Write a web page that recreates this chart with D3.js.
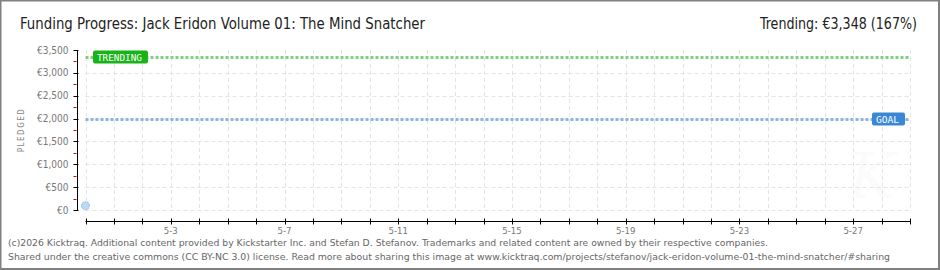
<!DOCTYPE html>
<html>
<head>
<meta charset="utf-8">
<script src="https://cdn.jsdelivr.net/npm/d3@7"></script>
<style>
  body { margin: 0; background: #fff; }
  svg { display: block; }
</style>
</head>
<body>
<div id="chart"></div>
<script>
// chart data
const title = "Funding Progress: Jack Eridon Volume 01: The Mind Snatcher";
const trendingText = "Trending: €3,348 (167%)";
const footerLines = [
    "(c)2026 Kicktraq. Additional content provided by Kickstarter Inc. and Stefan D. Stefanov. Trademarks and related content are owned by their respective companies.",
    "Shared under the creative commons (CC BY-NC 3.0) license. Read more about sharing this image at www.kicktraq.com/projects/stefanov/jack-eridon-volume-01-the-mind-snatcher/#sharing"
];
const startDate = "2026-04-30";
const endDate = "2026-05-29";
const labelDates = ["2026-05-03", "2026-05-07", "2026-05-11", "2026-05-15", "2026-05-19", "2026-05-23", "2026-05-27"];
const pledgeDates = ["2026-04-30"];
const pledgeValues = [95];
const goal = 2000;
const trending = 3348;
const yTicks = [0, 500, 1000, 1500, 2000, 2500, 3000, 3500];
const yMinorTicks = [250, 750, 1250, 1750, 2250, 2750, 3250];

const width = 940, height = 270;
const font = "'Liberation Sans Narrow', 'DejaVu Sans Condensed', sans-serif";

const svg = d3.select("#chart").append("svg")
    .attr("width", width)
    .attr("height", height);

// frame
svg.append("rect")
    .attr("x", 0.5).attr("y", 0.5)
    .attr("width", width - 1.5).attr("height", height - 1.5)
    .attr("fill", "#fff")
    .attr("stroke", "#808080")
    .attr("stroke-width", 2);

const parse = d3.timeParse("%Y-%m-%d");
const x = d3.scaleTime()
    .domain([parse(startDate), parse(endDate)])
    .range([85.5, 910]);
const y = d3.scaleLinear()
    .domain([0, 3500])
    .range([210, 50]);

const days = d3.timeDay.range(parse(startDate), d3.timeDay.offset(parse(endDate), 1));

// watermark
svg.append("text")
    .attr("x", 872).attr("y", 198)
    .attr("text-anchor", "middle")
    .attr("font-family", "DejaVu Serif, serif")
    .attr("font-style", "italic")
    .attr("font-size", 64)
    .attr("fill", "#fbfbfb")
    .text("K");

// grid
const grid = svg.append("g").attr("stroke", "#e4e4e4").attr("stroke-dasharray", "4,3");
grid.selectAll(".vg").data(days).join("line")
    .attr("x1", d => Math.round(x(d)) + 0.5).attr("x2", d => Math.round(x(d)) + 0.5)
    .attr("y1", y(3500)).attr("y2", y(0));
grid.selectAll(".hg").data(yTicks.slice(0, -1)).join("line")
    .attr("x1", x(parse(startDate))).attr("x2", x(parse(endDate)))
    .attr("y1", d => Math.round(y(d)) + 0.5).attr("y2", d => Math.round(y(d)) + 0.5);

// y axis
const gy = svg.append("g").attr("transform", "translate(77.5,0)");
gy.append("line").attr("y1", y(3500)).attr("y2", y(0)).attr("stroke", "#000");
gy.selectAll(".mt").data(yMinorTicks).join("line")
    .attr("x1", -4).attr("x2", -1)
    .attr("y1", d => Math.round(y(d)) + 0.5).attr("y2", d => Math.round(y(d)) + 0.5)
    .attr("stroke", "#e00000");
gy.selectAll(".t").data(yTicks).join("line")
    .attr("x1", -4).attr("x2", 1)
    .attr("y1", d => Math.round(y(d)) + 0.5).attr("y2", d => Math.round(y(d)) + 0.5)
    .attr("stroke", "#000");
gy.selectAll("text").data(yTicks).join("text")
    .attr("x", -9)
    .attr("y", d => y(d) + 3.5)
    .attr("text-anchor", "end")
    .attr("font-family", font)
    .attr("font-size", 10)
    .attr("fill", "#777")
    .text(d => "€" + d3.format(",")(d));

svg.append("text")
    .attr("transform", "translate(24,130) rotate(-90)")
    .attr("text-anchor", "middle")
    .attr("font-family", font)
    .attr("font-size", 8)
    .attr("letter-spacing", 1.5)
    .attr("fill", "#888")
    .text("PLEDGED");

// x axis
const gx = svg.append("g").attr("transform", "translate(0,221.5)");
gx.append("line").attr("x1", x(parse(startDate))).attr("x2", x(parse(endDate))).attr("stroke", "#000");
gx.selectAll("line.tk").data(days).join("line").attr("class", "tk")
    .attr("x1", d => Math.round(x(d)) + 0.5).attr("x2", d => Math.round(x(d)) + 0.5)
    .attr("y1", -3).attr("y2", 3)
    .attr("stroke", "#000");
gx.selectAll("text").data(labelDates.map(parse)).join("text")
    .attr("x", d => x(d))
    .attr("y", 12.5)
    .attr("text-anchor", "middle")
    .attr("font-family", font)
    .attr("font-size", 9.5)
    .attr("fill", "#777")
    .text(d => d3.timeFormat("%-m-%-d")(d));

// goal and trending lines
const refLine = (v, color) => svg.append("line")
    .attr("x1", x(parse(startDate))).attr("x2", x(parse(endDate)))
    .attr("y1", Math.round(y(v)) + 0.5).attr("y2", Math.round(y(v)) + 0.5)
    .attr("stroke", color)
    .attr("stroke-width", 3)
    .attr("stroke-dasharray", "3,2");
refLine(trending, "#7fd07f");
refLine(goal, "#8fb4e0");

const badge = (bx, v, w, color, label) => {
    const cy = Math.round(y(v));
    svg.append("rect")
        .attr("x", bx).attr("y", cy - 6.5)
        .attr("width", w).attr("height", 13)
        .attr("rx", 2)
        .attr("fill", color);
    svg.append("text")
        .attr("x", bx + 4).attr("y", cy + 3.5)
        .attr("font-family", "'DejaVu Sans Mono', monospace")
        .attr("font-size", 9)
        .attr("fill", "#fff")
        .attr("textLength", w - 10)
        .attr("lengthAdjust", "spacingAndGlyphs")
        .text(label);
};
badge(93, trending, 55, "#17b317", "TRENDING");
badge(872, goal, 33, "#3a87d6", "GOAL");

// pledged points
svg.selectAll("circle").data(pledgeDates).join("circle")
    .attr("cx", d => x(parse(d)))
    .attr("cy", (d, i) => y(pledgeValues[i]))
    .attr("r", 4)
    .attr("fill", "#bcd8f7")
    .attr("stroke", "#8fb4e0")
    .attr("stroke-dasharray", "1.5,1");

// header
svg.append("text")
    .attr("x", 20).attr("y", 29)
    .attr("font-family", font)
    .attr("font-size", 15)
    .attr("fill", "#222")
    .attr("textLength", 405)
    .attr("lengthAdjust", "spacingAndGlyphs")
    .text(title);
svg.append("text")
    .attr("x", 760).attr("y", 29)
    .attr("font-family", font)
    .attr("font-size", 15)
    .attr("fill", "#222")
    .attr("textLength", 157)
    .attr("lengthAdjust", "spacingAndGlyphs")
    .text(trendingText);

// footer
svg.selectAll(".foot").data(footerLines).join("text")
    .attr("x", 8)
    .attr("y", (d, i) => 246 + i * 14)
    .attr("font-family", "'DejaVu Sans Condensed', 'Liberation Sans Narrow', sans-serif")
    .attr("font-size", 9)
    .attr("fill", "#666")
    .attr("textLength", (d, i) => i == 0 ? 760 : 882)
    .attr("lengthAdjust", "spacingAndGlyphs")
    .text(d => d);
</script>
</body>
</html>
